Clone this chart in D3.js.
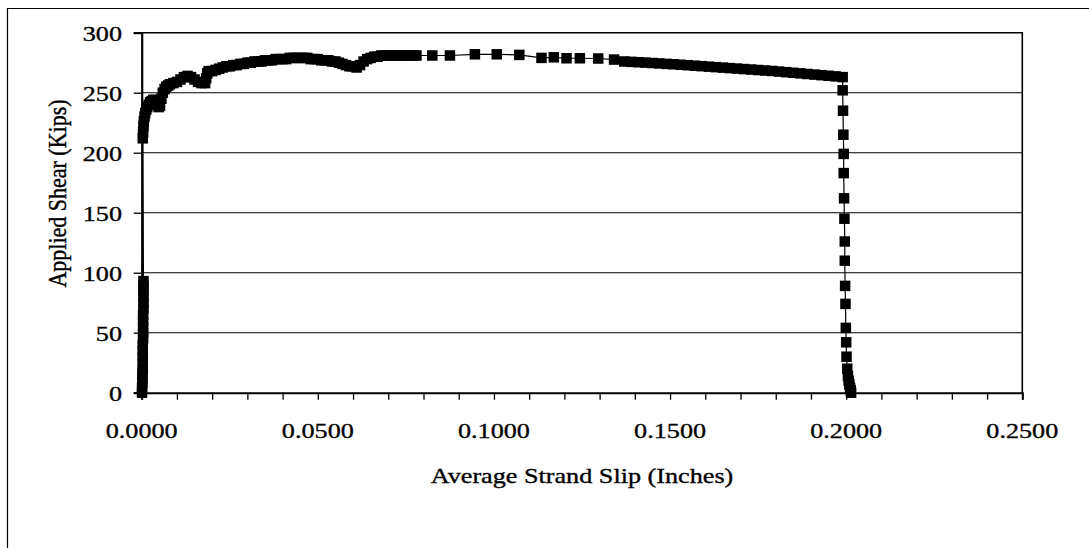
<!DOCTYPE html>
<html>
<head>
<meta charset="utf-8">
<script src="https://cdn.jsdelivr.net/npm/d3@7"></script>
<style>
  html, body { margin: 0; padding: 0; background: #fff; }
  svg { display: block; }
  text { font-family: "Liberation Serif", "Times New Roman", serif; fill: #000; stroke: #000; stroke-width: 0.35px; }
</style>
</head>
<body>
<svg id="chart" width="1089" height="548"></svg>
<script>
// ---- data ----
const slip = [
  // initial elastic stage (slip ~ 0)
  0.0001,0.0001,0.0002,0.0002,0.0002,0.0003,0.0003,0.0003,0.0003,0.0003,0.0004,
  0.0004,0.0004,0.0004,0.0004,0.0005,0.0005,0.0005,0.0005,0.0005,0.0005,
  // upper branch
  0.0003,0.0004,0.0005,0.0006,0.0008,0.0010,0.0013,0.0016,0.0020,0.0024,0.0028,
  0.0033,0.0038,0.0043,0.0048,0.0052,0.0056,0.0060,0.0065,0.0070,0.0075,0.0080,
  0.0090,0.0100,0.0110,0.0120,0.0130,0.0140,0.0150,0.0160,0.0170,0.0180,0.0183,
  0.0186,0.0190,0.0200,0.0210,0.0220,0.0230,0.0240,0.0250,0.0260,0.0270,0.0280,
  0.0290,0.0300,0.0310,0.0320,0.0330,0.0340,0.0350,0.0360,0.0370,0.0380,0.0390,
  0.0400,0.0410,0.0420,0.0430,0.0440,0.0450,0.0460,0.0470,0.0480,0.0490,0.0500,
  0.0510,0.0520,0.0530,0.0540,0.0550,0.0560,0.0570,0.0580,0.0590,0.0600,0.0610,
  0.0620,0.0630,0.0640,0.0650,0.0660,0.0670,0.0680,0.0690,0.0700,0.0710,0.0720,
  0.0730,0.0740,0.0750,0.0760,0.0770,0.0780,
  // sparse readings
  0.0825,0.0875,0.0946,0.1008,0.1072,0.1135,0.1170,0.1206,0.1244,0.1296,0.1341,
  // slow decline
  0.1370,0.1390,0.1410,0.1430,0.1450,0.1470,0.1490,0.1510,0.1530,0.1550,0.1570,
  0.1590,0.1610,0.1630,0.1650,0.1670,0.1690,0.1710,0.1730,0.1750,0.1770,0.1790,
  0.1810,0.1830,0.1850,0.1870,0.1890,0.1910,0.1930,0.1950,0.1970,0.1990,
  // failure drop
  0.1990,0.1991,0.1992,0.1993,0.1993,0.1994,0.1995,0.1996,0.1996,0.1997,0.1998,
  0.1999,0.2000,0.2001,0.2003,0.2005,0.2007,0.2009,0.2011,0.2013,0.2014
];
const shear = [
  0,4,8,12,16,20,25,30,35,40,45,
  50,55,60,65,70,75,80,85,89,93,
  212,217,222,226,230,233,236,238,240,242,243,
  244,244,241,238,239,245,250,253,255,256,257,
  258,259,261,263,264,263,261,259,258,258,262,
  266,268,268,269,270,271,272,272,273,273,274,
  274,275,275,276,276,276,277,277,277,278,278,
  278,278,279,279,279,279,279,279,278,278,278,
  277,277,277,276,276,275,274,273,272,272,271,
  273,276,278,279,280,280,281,281,281,281,281,
  281,281,281,281,281,281,
  281,281,282,282,281.5,279,279.5,278.7,278.7,278.5,277.6,
  276.0,275.7,275.4,275.1,274.7,274.4,274.0,273.7,273.3,272.9,272.5,
  272.1,271.7,271.3,270.9,270.5,270.1,269.7,269.3,268.9,268.5,268.1,
  267.6,267.1,266.6,266.1,265.6,265.1,264.6,264.1,263.6,263.0,
  252,235,215,199,183,162,145,126,110,89,74,
  54,42,30,20,14,10,7,4,2,0
];
const xTicks = [0, 0.05, 0.10, 0.15, 0.20, 0.25];
const xMinorTicks = d3.range(0, 0.2501, 0.01);
const yTicks = [0, 50, 100, 150, 200, 250, 300];
const xTitle = "Average Strand Slip (Inches)";
const yTitle = "Applied Shear (Kips)";

// ---- layout ----
const svg = d3.select("#chart");
const L = 141.7, R = 1022.3, T = 32.7, B = 392.7;
const SX = 1.19; // horizontal stretch of the scanned text

const x = d3.scaleLinear().domain([0, 0.25]).range([L, R]);
const y = d3.scaleLinear().domain([0, 300]).range([B, T]);

// outer frame (extends off canvas on right/bottom)
svg.append("path")
  .attr("d", `M7.5,560 L7.5,8.5 L1100,8.5`)
  .attr("fill", "none").attr("stroke", "#000").attr("stroke-width", 1.2);

// gridlines
svg.append("g").selectAll("line")
  .data(yTicks.filter(v => v > 0 && v < 300))
  .join("line")
  .attr("x1", L).attr("x2", R)
  .attr("y1", d => y(d)).attr("y2", d => y(d))
  .attr("stroke", "#000").attr("stroke-width", 1.1);

// plot border top & right
svg.append("path")
  .attr("d", `M${L},${y(300)} L${R},${y(300)} L${R},${B}`)
  .attr("fill", "none").attr("stroke", "#000").attr("stroke-width", 1.6);

// x axis (minor ticks, outward)
const xAxis = d3.axisBottom(x).tickValues(xMinorTicks).tickSize(7).tickFormat("");
const gx = svg.append("g").attr("transform", `translate(0,${B})`).call(xAxis);
gx.select(".domain").attr("stroke", "#000").attr("stroke-width", 2);
gx.selectAll(".tick line").attr("stroke", "#000").attr("stroke-width", 1.3);

// y axis
const yAxis = d3.axisLeft(y).tickValues(yTicks).tickSize(8).tickFormat("");
const gy = svg.append("g").attr("transform", `translate(${L},0)`).call(yAxis);
gy.select(".domain").attr("stroke", "#000").attr("stroke-width", 2.2);
gy.selectAll(".tick line").attr("stroke", "#000").attr("stroke-width", 1.3);

// x tick labels
svg.append("g").selectAll("text")
  .data(xTicks).join("text")
  .attr("transform", d => `translate(${x(d)},438) scale(${SX},1)`)
  .attr("text-anchor", "middle")
  .style("font-size", "22px")
  .text(d => d3.format(".4f")(d));

// y tick labels
svg.append("g").selectAll("text")
  .data(yTicks).join("text")
  .attr("transform", d => `translate(122,${y(d) + 8}) scale(${SX},1)`)
  .attr("text-anchor", "end")
  .style("font-size", "22px")
  .text(d => d);

// axis titles
svg.append("text")
  .attr("transform", `translate(${(L + R) / 2},483) scale(${SX},1)`)
  .attr("text-anchor", "middle")
  .style("font-size", "22px")
  .text(xTitle);

svg.append("text")
  .attr("transform", `translate(66,193.5) scale(${SX},1) rotate(-90)`)
  .attr("text-anchor", "middle")
  .style("font-size", "22px")
  .text(yTitle);

// series
const pts = slip.map((s, i) => [s, shear[i]]);
const line = d3.line().x(d => x(d[0])).y(d => y(d[1]));
svg.append("path")
  .attr("d", line(pts))
  .attr("fill", "none").attr("stroke", "#000").attr("stroke-width", 1.2);

const M = 10.5;
svg.append("g").selectAll("rect")
  .data(pts).join("rect")
  .attr("x", d => x(d[0]) - M / 2)
  .attr("y", d => y(d[1]) - M / 2)
  .attr("width", M).attr("height", M)
  .attr("fill", "#000");
</script>
</body>
</html>
